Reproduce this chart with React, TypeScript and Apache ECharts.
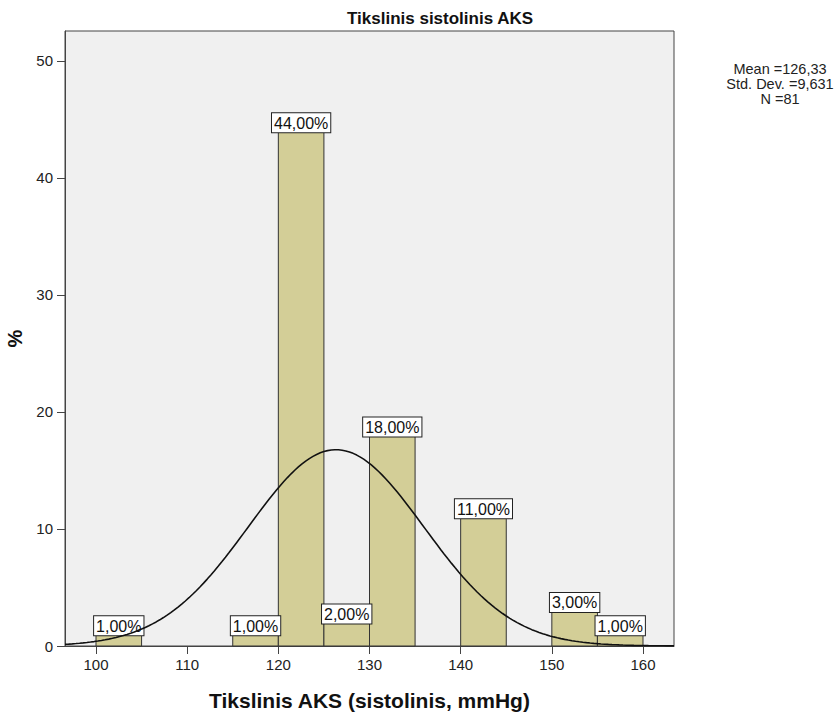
import React, { useEffect, useRef } from "react";
import * as echarts from "echarts";

const BIN_START = [100, 115, 120, 125, 130, 140, 150, 155];
const BIN_WIDTH = 5;
const PERCENTS = [1, 1, 44, 2, 18, 11, 3, 1];
const BAR_LABELS = ["1,00%", "1,00%", "44,00%", "2,00%", "18,00%", "11,00%", "3,00%", "1,00%"];
const X_TICKS = [100, 110, 120, 130, 140, 150, 160];
const Y_TICKS = [0, 10, 20, 30, 40, 50];
const MEAN = 126.33;
const SD = 9.631;
const N = 81;
const STATS_LINES = ["Mean =126,33", "Std. Dev. =9,631", "N =81"];
const TITLE = "Tikslinis sistolinis AKS";
const X_NAME = "Tikslinis AKS (sistolinis, mmHg)";
const Y_NAME = "%";
const X_MIN = 96.6;
const X_MAX = 163.4;
const Y_MAX = 52.56;

const FONT = 'Arial, "Liberation Sans", sans-serif';

function normalCurve(): number[][] {
  const pts: number[][] = [];
  const scale = (N * BIN_WIDTH) / (SD * Math.sqrt(2 * Math.PI));
  for (let x = X_MIN; x <= X_MAX + 1e-9; x += 0.4) {
    const z = (x - MEAN) / SD;
    pts.push([x, scale * Math.exp(-0.5 * z * z)]);
  }
  return pts;
}

export default function App() {
  const ref = useRef<HTMLDivElement>(null);
  useEffect(() => {
    if (!ref.current) return;
    const chart = echarts.init(ref.current, undefined, { renderer: "svg" });
    const barData = BIN_START.map((s, i) => [s, s + BIN_WIDTH, PERCENTS[i]]);
    chart.setOption({
      animation: false,
      backgroundColor: "#ffffff",
      textStyle: { fontFamily: FONT },
      grid: {
        left: 65,
        top: 31,
        width: 609,
        height: 615,
        show: true,
        containLabel: false,
        outerBoundsMode: "none",
        backgroundColor: "#F0F0F0",
        borderColor: "#444444",
        borderWidth: 1,
      },
      xAxis: {
        type: "value",
        min: X_MIN,
        max: X_MAX,
        axisLine: { show: true, lineStyle: { color: "#444444", width: 1 } },
        axisTick: { show: true, customValues: X_TICKS, length: 8, lineStyle: { color: "#444444" } },
        axisLabel: { customValues: X_TICKS, fontSize: 15, color: "#222222", margin: 11, fontFamily: FONT },
        splitLine: { show: false },
        name: X_NAME,
        nameLocation: "middle",
        nameGap: 44,
        nameTextStyle: { fontSize: 21, fontWeight: "bold", color: "#111111", fontFamily: FONT },
      },
      yAxis: {
        type: "value",
        min: 0,
        max: Y_MAX,
        axisLine: { show: true, lineStyle: { color: "#444444", width: 1 } },
        axisTick: { show: true, customValues: Y_TICKS, length: 8, lineStyle: { color: "#444444" } },
        axisLabel: { customValues: Y_TICKS, fontSize: 15, color: "#222222", margin: 12, fontFamily: FONT },
        splitLine: { show: false },
        name: Y_NAME,
        nameLocation: "middle",
        nameGap: 37,
        nameRotate: 90,
        nameTextStyle: { fontSize: 20, fontWeight: "bold", color: "#111111", fontFamily: FONT },
      },
      graphic: [
        {
          type: "text",
          left: 347,
          top: 10,
          style: { text: TITLE, font: `bold 17px ${FONT}`, fill: "#111111" },
        },
        ...STATS_LINES.map((t, i) => ({
          type: "text",
          x: 780,
          y: 69 + i * 15,
          style: { text: t, font: `14.5px ${FONT}`, fill: "#222222", align: "center", verticalAlign: "middle" },
        })),
      ],
      series: [
        {
          type: "custom",
          z: 2,
          data: barData,
          encode: { x: [0, 1], y: 2 },
          renderItem: (params: any, api: any) => {
            const s = api.value(0);
            const e = api.value(1);
            const v = api.value(2);
            const p0 = api.coord([s, v]);
            const p1 = api.coord([e, 0]);
            return {
              type: "group",
              children: [
                {
                  type: "rect",
                  shape: { x: p0[0], y: p0[1], width: p1[0] - p0[0], height: p1[1] - p0[1] },
                  style: { fill: "#D3CE97", stroke: "#333333", lineWidth: 1 },
                },
                {
                  type: "text",
                  x: (p0[0] + p1[0]) / 2,
                  y: p0[1] + 1,
                  z2: 10,
                  style: {
                    text: BAR_LABELS[params.dataIndex],
                    align: "center",
                    verticalAlign: "bottom",
                    font: `16px ${FONT}`,
                    fill: "#111111",
                    backgroundColor: "#ffffff",
                    borderColor: "#222222",
                    borderWidth: 1,
                    padding: [2, 2, 1, 2],
                  },
                },
              ],
            };
          },
        },
        {
          type: "line",
          z: 3,
          data: normalCurve(),
          showSymbol: false,
          symbol: "none",
          smooth: false,
          lineStyle: { color: "#111111", width: 1.6 },
        },
      ],
    });
    return () => chart.dispose();
  }, []);
  return (
    <div
      ref={ref}
      style={{ position: "absolute", left: 0, top: 0, width: 839, height: 713 }}
    />
  );
}
